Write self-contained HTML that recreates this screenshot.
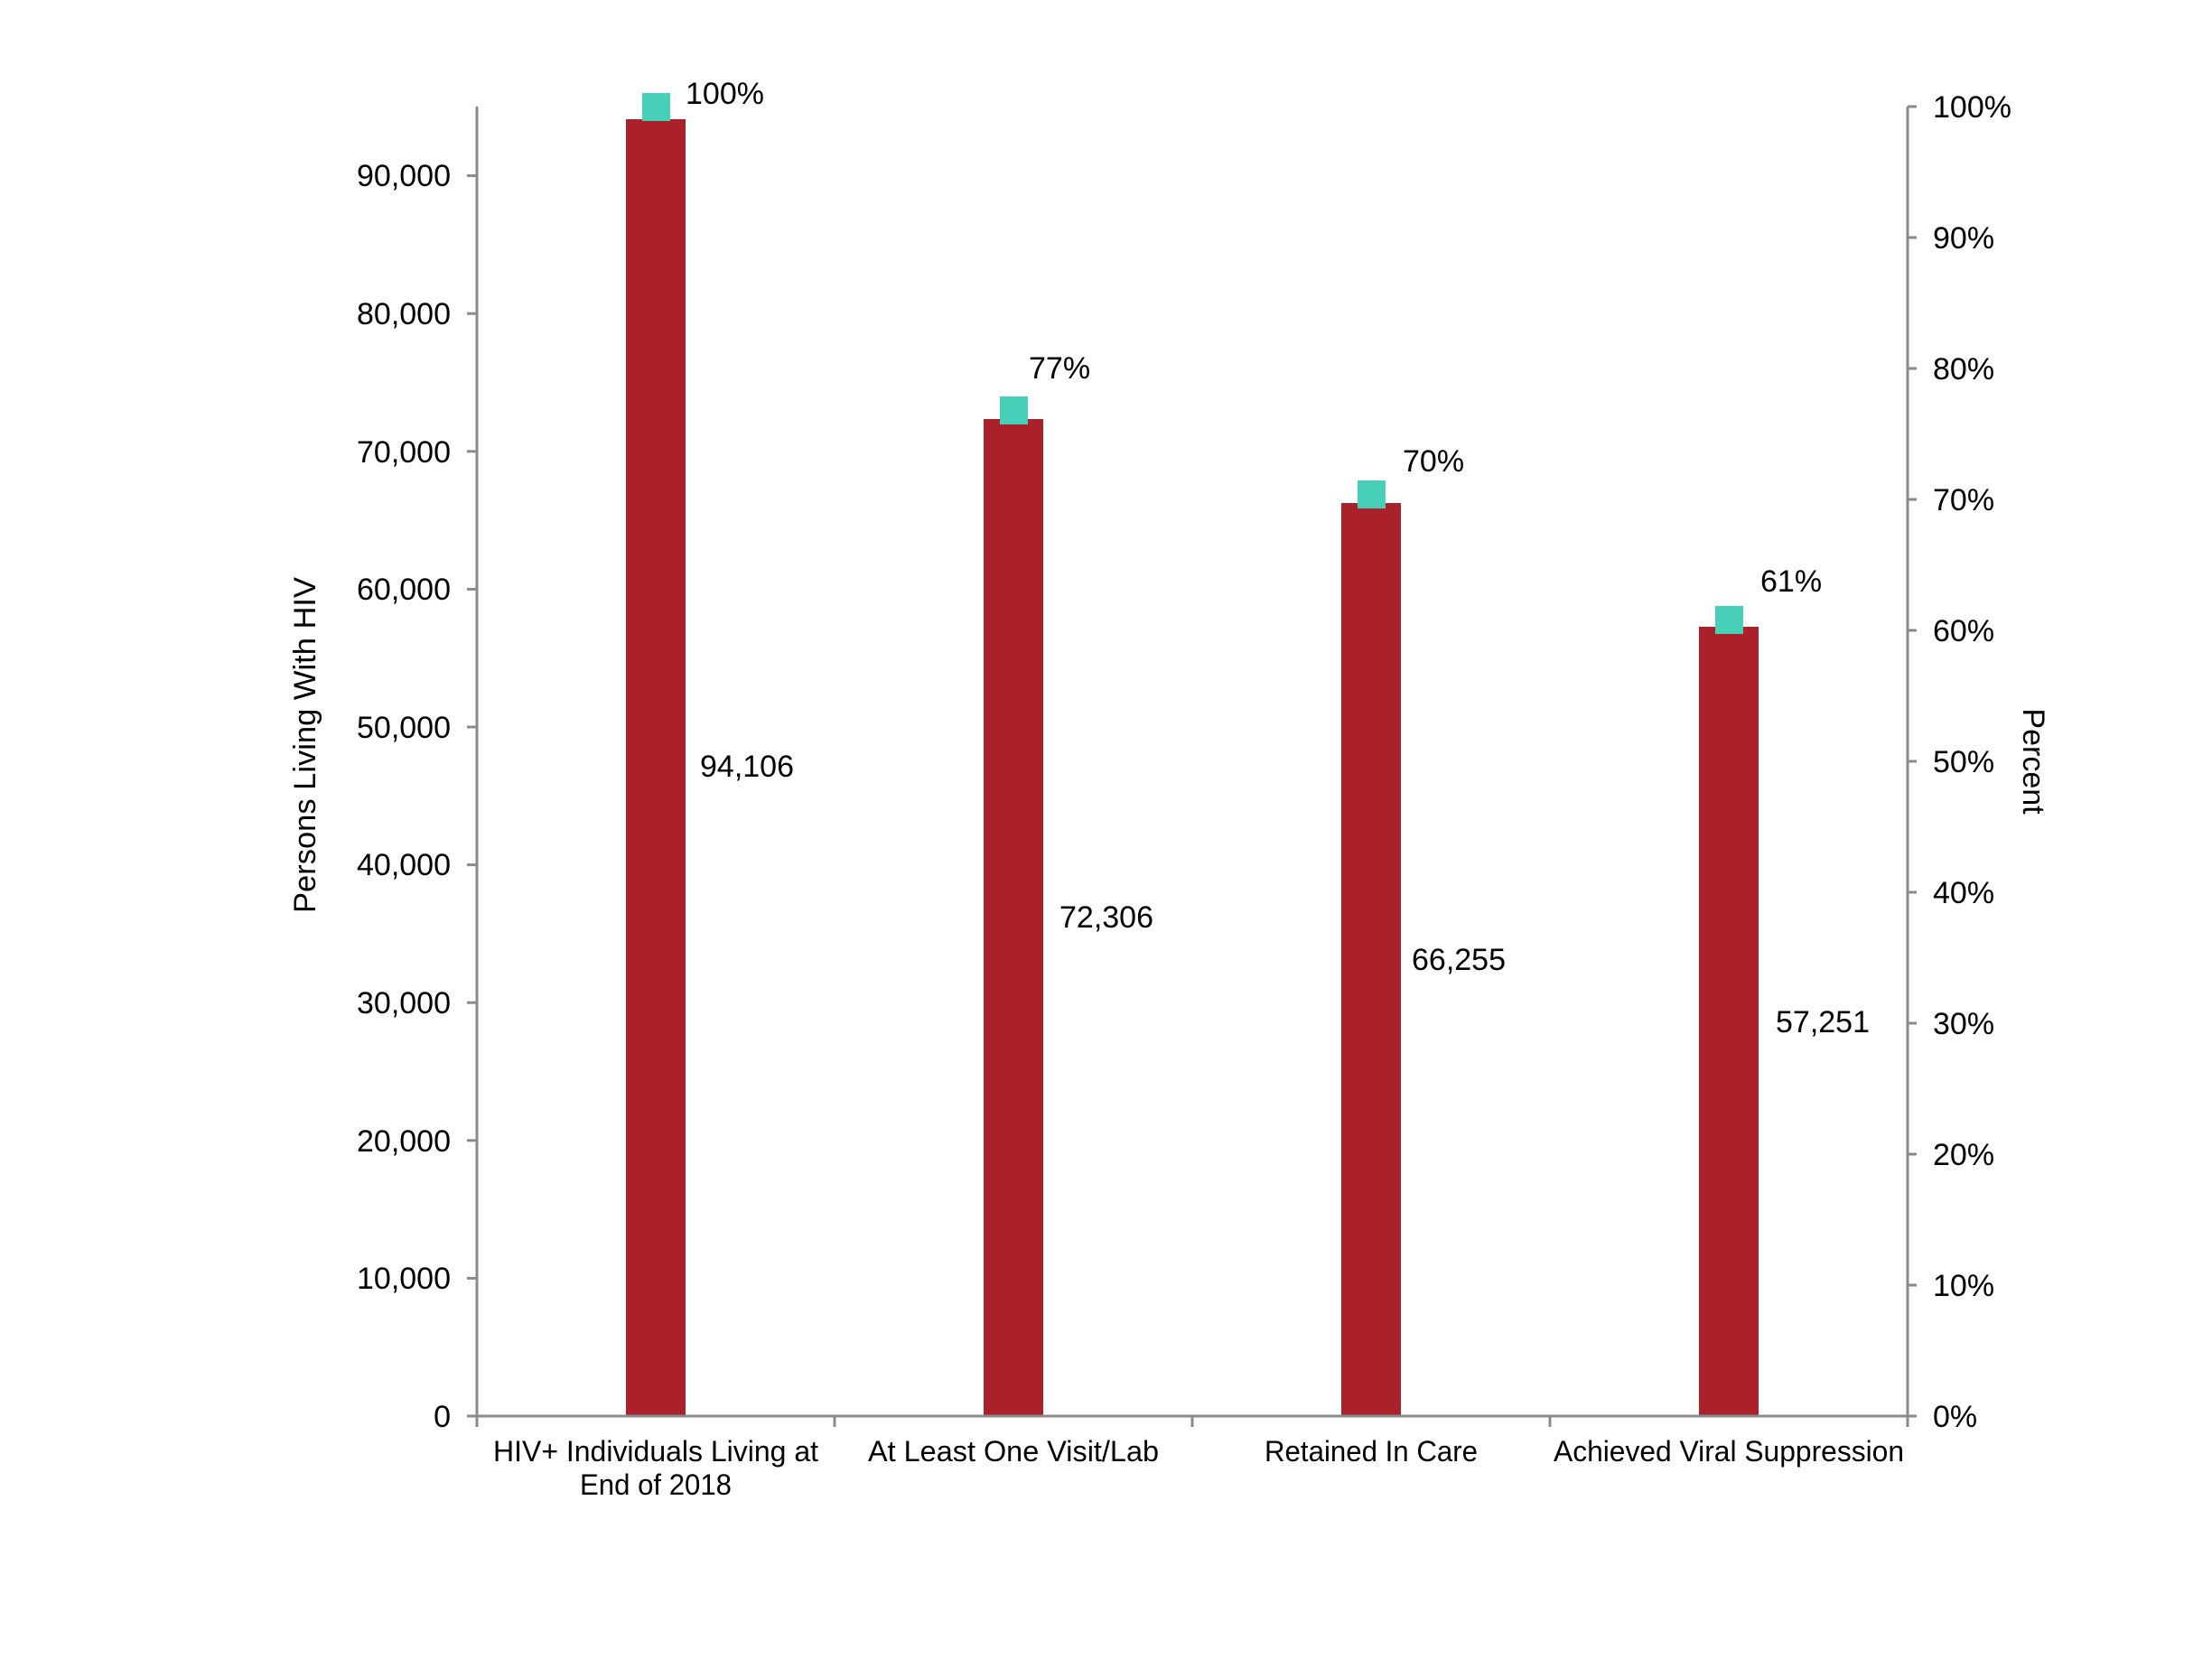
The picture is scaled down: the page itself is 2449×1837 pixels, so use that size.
<!DOCTYPE html>
<html><head><meta charset="utf-8"><style>html,body{margin:0;padding:0;background:#fff}svg{display:block}</style></head>
<body>
<svg width="2449" height="1837" viewBox="0 0 2449 1837" xmlns="http://www.w3.org/2000/svg" font-family="'Liberation Sans', sans-serif" fill="#000">
<rect width="2449" height="1837" fill="#fff"/>
<g fill="#aa212a">
<rect x="693" y="132" width="66" height="1436"/>
<rect x="1089" y="464" width="66" height="1104"/>
<rect x="1485" y="557" width="66" height="1011"/>
<rect x="1881" y="694" width="66" height="874"/>
</g>
<g stroke="#8a8a8a" stroke-width="3" fill="none">
<line x1="528" y1="118" x2="528" y2="1570"/>
<line x1="2112" y1="118" x2="2112" y2="1570"/>
<line x1="517" y1="1568" x2="2122" y2="1568"/>
<line x1="517" y1="194.6" x2="528" y2="194.6"/>
<line x1="517" y1="347.2" x2="528" y2="347.2"/>
<line x1="517" y1="499.8" x2="528" y2="499.8"/>
<line x1="517" y1="652.4" x2="528" y2="652.4"/>
<line x1="517" y1="805" x2="528" y2="805"/>
<line x1="517" y1="957.6" x2="528" y2="957.6"/>
<line x1="517" y1="1110.2" x2="528" y2="1110.2"/>
<line x1="517" y1="1262.8" x2="528" y2="1262.8"/>
<line x1="517" y1="1415.4" x2="528" y2="1415.4"/>
<line x1="2112" y1="118" x2="2122" y2="118"/>
<line x1="2112" y1="263" x2="2122" y2="263"/>
<line x1="2112" y1="408" x2="2122" y2="408"/>
<line x1="2112" y1="553" x2="2122" y2="553"/>
<line x1="2112" y1="698" x2="2122" y2="698"/>
<line x1="2112" y1="843" x2="2122" y2="843"/>
<line x1="2112" y1="988" x2="2122" y2="988"/>
<line x1="2112" y1="1133" x2="2122" y2="1133"/>
<line x1="2112" y1="1278" x2="2122" y2="1278"/>
<line x1="2112" y1="1423" x2="2122" y2="1423"/>
<line x1="528" y1="1568" x2="528" y2="1580"/>
<line x1="924" y1="1568" x2="924" y2="1580"/>
<line x1="1320" y1="1568" x2="1320" y2="1580"/>
<line x1="1716" y1="1568" x2="1716" y2="1580"/>
<line x1="2112" y1="1568" x2="2112" y2="1580"/>
</g>
<g fill="#47cfb8">
<rect x="711" y="103" width="31" height="31"/>
<rect x="1107" y="439" width="31" height="31"/>
<rect x="1503" y="532" width="31" height="31"/>
<rect x="1899" y="671" width="31" height="31"/>
</g>
<g font-size="34" text-anchor="end">
<text x="499" y="1580">0</text>
<text x="499" y="1427">10,000</text>
<text x="499" y="1275">20,000</text>
<text x="499" y="1122">30,000</text>
<text x="499" y="969">40,000</text>
<text x="499" y="817">50,000</text>
<text x="499" y="664">60,000</text>
<text x="499" y="512">70,000</text>
<text x="499" y="359">80,000</text>
<text x="499" y="206">90,000</text>
</g>
<g font-size="34">
<text x="2140" y="130">100%</text>
<text x="2140" y="275">90%</text>
<text x="2140" y="420">80%</text>
<text x="2140" y="565">70%</text>
<text x="2140" y="710">60%</text>
<text x="2140" y="855">50%</text>
<text x="2140" y="1000">40%</text>
<text x="2140" y="1145">30%</text>
<text x="2140" y="1290">20%</text>
<text x="2140" y="1435">10%</text>
<text x="2140" y="1580">0%</text>
<text x="759" y="115">100%</text>
<text x="1139" y="419">77%</text>
<text x="1553" y="522">70%</text>
<text x="1949" y="655">61%</text>
<text x="775" y="860">94,106</text>
<text x="1173" y="1027">72,306</text>
<text x="1563" y="1074">66,255</text>
<text x="1966" y="1143">57,251</text>
</g>
<g font-size="32" text-anchor="middle">
<text x="726" y="1618" textLength="360" lengthAdjust="spacingAndGlyphs">HIV+ Individuals Living at</text>
<text x="726" y="1655" textLength="168" lengthAdjust="spacingAndGlyphs">End of 2018</text>
<text x="1122" y="1618" textLength="322" lengthAdjust="spacingAndGlyphs">At Least One Visit/Lab</text>
<text x="1518" y="1618" textLength="236" lengthAdjust="spacingAndGlyphs">Retained In Care</text>
<text x="1914" y="1618" textLength="388" lengthAdjust="spacingAndGlyphs">Achieved Viral Suppression</text>
</g>
<text font-size="34" text-anchor="middle" textLength="372" lengthAdjust="spacingAndGlyphs" transform="translate(349,825) rotate(-90)">Persons Living With HIV</text>
<text font-size="34" text-anchor="middle" transform="translate(2240,843) rotate(90)">Percent</text>
</svg>
</body></html>
